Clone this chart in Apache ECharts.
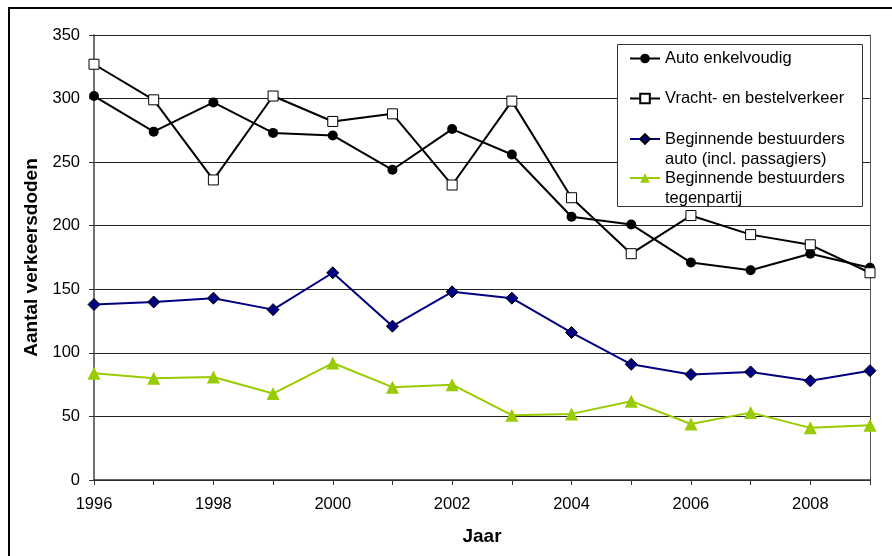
<!DOCTYPE html>
<html>
<head>
<meta charset="utf-8">
<script src="https://cdn.jsdelivr.net/npm/echarts@6/dist/echarts.min.js"></script>
<style>html,body{margin:0;padding:0;background:#fff;}#c{width:892px;height:556px;}</style>
</head>
<body>
<div id="c"></div>
<script>
const years = ['1996','1997','1998','1999','2000','2001','2002','2003','2004','2005','2006','2007','2008','2009'];
const autoEnkelvoudig = [302, 274, 297, 273, 271, 244, 276, 256, 207, 201, 171, 165, 178, 167];
const vrachtBestel = [327, 299, 236, 302, 282, 288, 232, 298, 222, 178, 208, 193, 185, 163];
const beginnendAuto = [138, 140, 143, 134, 163, 121, 148, 143, 116, 91, 83, 85, 78, 86];
const beginnendTegen = [84, 80, 81, 68, 92, 73, 75, 51, 52, 62, 44, 53, 41, 43];
const seriesNames = ['Auto enkelvoudig', 'Vracht- en bestelverkeer', 'Beginnende bestuurders\nauto (incl. passagiers)', 'Beginnende bestuurders\ntegenpartij'];
const yTicks = {min: 0, max: 350, interval: 50};

const FONT = '"Liberation Sans", Arial, sans-serif';
const chart = echarts.init(document.getElementById('c'), null, {renderer: 'canvas'});

const legendTops = [48.5, 88.5, 109, 148];
const legends = seriesNames.map((n, i) => ({
  show: true,
  orient: 'vertical',
  left: 629,
  top: legendTops[i],
  padding: 0,
  itemGap: 0,
  itemWidth: 30,
  itemHeight: 12,
  z: 10,
  selectedMode: false,
  data: [n],
  formatter: i >= 2 ? (name => '\n' + name) : (name => name),
  textStyle: {
    fontFamily: FONT,
    fontSize: 16.5,
    lineHeight: 20,
    color: '#000'
  }
}));

const option = {
  animation: false,
  backgroundColor: '#fff',
  textStyle: {fontFamily: FONT},
  grid: {left: 94, right: 22, top: 35, bottom: 76, containLabel: false},
  legend: legends,
  graphic: [
    {type: 'rect', shape: {x: 9, y: 8, width: 920, height: 620}, style: {fill: null, stroke: '#000', lineWidth: 2}, z: 0, silent: true},
    {type: 'rect', shape: {x: 617.5, y: 44.5, width: 245, height: 162}, style: {fill: '#fff', stroke: '#333', lineWidth: 1}, z: 5, silent: true}
  ],
  xAxis: {
    type: 'category',
    data: years,
    boundaryGap: false,
    name: 'Jaar',
    nameLocation: 'middle',
    nameGap: 47,
    nameTextStyle: {fontFamily: FONT, fontSize: 19, fontWeight: 'bold', color: '#000'},
    axisLine: {show: true, lineStyle: {color: '#333', width: 1.5}},
    axisTick: {show: true, interval: 0, length: 5, inside: false, lineStyle: {color: '#333', width: 1}},
    axisLabel: {interval: 1, margin: 16, fontFamily: FONT, fontSize: 16.5, color: '#000'},
    splitLine: {show: false}
  },
  yAxis: [{
    type: 'value',
    min: yTicks.min, max: yTicks.max, interval: yTicks.interval,
    name: 'Aantal verkeersdoden',
    nameLocation: 'middle',
    nameGap: 43,
    nameRotate: 90,
    nameTextStyle: {fontFamily: FONT, fontSize: 19, fontWeight: 'bold', color: '#000'},
    axisLine: {show: true, lineStyle: {color: '#444', width: 1.5}},
    axisTick: {show: true, length: 5, inside: false, lineStyle: {color: '#333', width: 1}},
    axisLabel: {margin: 14, fontFamily: FONT, fontSize: 16.5, color: '#000'},
    splitLine: {show: true, lineStyle: {color: '#222', width: 1}}
  }, {
    type: 'value',
    position: 'right',
    min: yTicks.min, max: yTicks.max, interval: yTicks.interval,
    axisLine: {show: true, lineStyle: {color: '#555', width: 1}},
    axisTick: {show: false},
    axisLabel: {show: false},
    splitLine: {show: false}
  }],
  series: [
    {
      name: seriesNames[0], type: 'line', data: autoEnkelvoudig,
      symbol: 'circle', symbolSize: 10, z: 3,
      lineStyle: {color: '#000', width: 2},
      itemStyle: {color: '#000', borderColor: '#000', borderWidth: 0}
    },
    {
      name: seriesNames[1], type: 'line', data: vrachtBestel,
      symbol: 'rect', symbolSize: 10, z: 3,
      lineStyle: {color: '#000', width: 2},
      itemStyle: {color: '#fff', borderColor: '#000', borderWidth: 1}
    },
    {
      name: seriesNames[2], type: 'line', data: beginnendAuto,
      symbol: 'diamond', symbolSize: 12, z: 3,
      lineStyle: {color: '#000080', width: 2},
      itemStyle: {color: '#000080', borderColor: '#000', borderWidth: 1}
    },
    {
      name: seriesNames[3], type: 'line', data: beginnendTegen,
      symbol: 'triangle', symbolSize: 13, z: 3,
      lineStyle: {color: '#99CC00', width: 2},
      itemStyle: {color: '#99CC00', borderColor: '#99CC00', borderWidth: 0}
    }
  ]
};
chart.setOption(option);
</script>
</body>
</html>
